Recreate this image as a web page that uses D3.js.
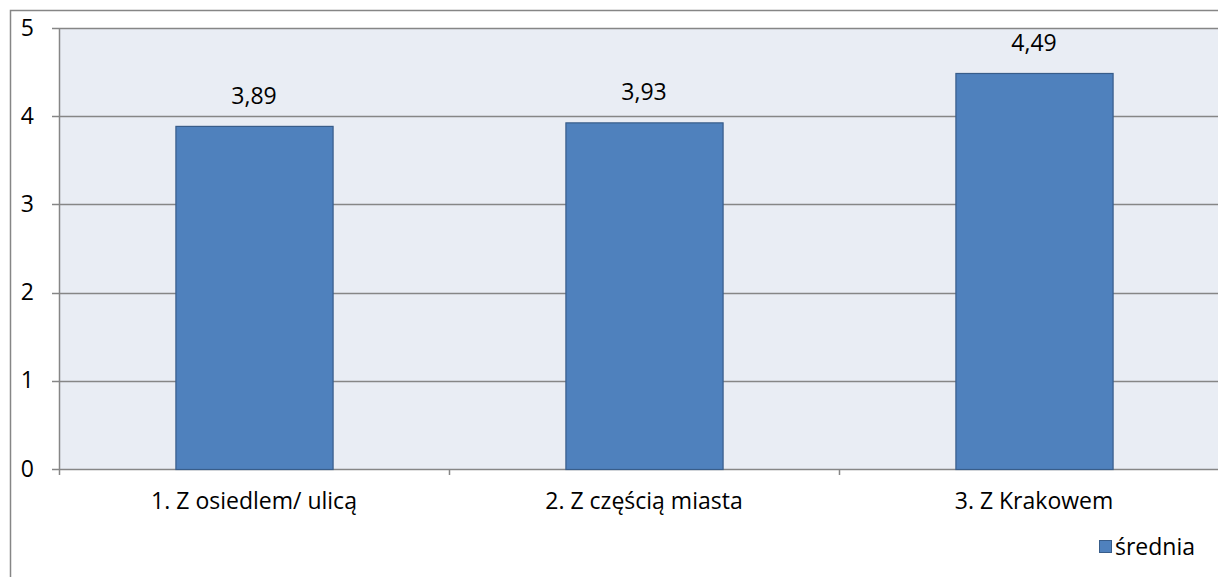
<!DOCTYPE html>
<html><head><meta charset="utf-8">
<script src="https://cdn.jsdelivr.net/npm/d3@7"></script>
<style>body{margin:0;background:#fff}svg{display:block}text{font-family:"Open Sans",sans-serif;fill:#000}</style>
</head><body>
<svg id="c" width="1218" height="577"></svg>
<script>
const categories = ["1. Z osiedlem/ ulicą", "2. Z częścią miasta", "3. Z Krakowem"];
const values = [3.89, 3.93, 4.49];
const valueLabels = ["3,89", "3,93", "4,49"];
const yTicks = [0, 1, 2, 3, 4, 5];
const seriesName = "średnia";

const svg = d3.select("#c");
const L = 59, R = 1229, T = 28, B = 469;
const FS = "23px";

svg.append("rect").attr("x", 10.5).attr("y", 10.5).attr("width", 1240).attr("height", 600)
  .attr("fill", "#fff").attr("stroke", "#868686").attr("stroke-width", 1.5);

const xo = d3.scaleBand().domain(categories).range([L, R]);
const bw = xo.bandwidth() * 0.403;
const bx = d => xo(d) + (xo.bandwidth() - bw) / 2;
const y = d3.scaleLinear().domain([0, 5]).range([B, T]);

svg.append("rect").attr("x", L).attr("y", T).attr("width", R - L).attr("height", B - T).attr("fill", "#E9EDF4");

svg.append("g").selectAll("line").data(yTicks).join("line")
  .attr("x1", L - 7).attr("x2", R).attr("y1", d => Math.round(y(d)) + 0.5).attr("y2", d => Math.round(y(d)) + 0.5)
  .attr("stroke", "#868686").attr("stroke-width", 1.5);

svg.append("line").attr("x1", L + 0.5).attr("x2", L + 0.5).attr("y1", T).attr("y2", B + 6)
  .attr("stroke", "#868686").attr("stroke-width", 1.5);

svg.append("g").selectAll("line").data(categories.slice(1)).join("line")
  .attr("x1", d => Math.round(xo(d)) + 0.5).attr("x2", d => Math.round(xo(d)) + 0.5)
  .attr("y1", B).attr("y2", B + 6).attr("stroke", "#868686").attr("stroke-width", 1.5);

svg.append("g").selectAll("text").data(yTicks).join("text")
  .attr("x", 34).attr("y", d => y(d) + 7.5).attr("text-anchor", "end").style("font-size", FS).text(d => d);

svg.append("g").selectAll("rect").data(values).join("rect")
  .attr("x", (d, i) => bx(categories[i]) + 0.5).attr("width", bw)
  .attr("y", d => y(d) + 0.5).attr("height", d => B - y(d))
  .attr("fill", "#4F81BD").attr("stroke", "#385D8A").attr("stroke-width", 1.2);

svg.append("g").selectAll("text").data(values).join("text")
  .attr("x", (d, i) => xo(categories[i]) + xo.bandwidth() / 2).attr("y", d => y(d) - 22)
  .attr("text-anchor", "middle").style("font-size", FS).text((d, i) => valueLabels[i]);

svg.append("g").selectAll("text").data(categories).join("text")
  .attr("x", d => xo(d) + xo.bandwidth() / 2).attr("y", 509)
  .attr("text-anchor", "middle").style("font-size", FS).text(d => d);

svg.append("rect").attr("x", 1099.5).attr("y", 540.5).attr("width", 12).attr("height", 12)
  .attr("fill", "#4F81BD").attr("stroke", "#385D8A").attr("stroke-width", 1);
svg.append("text").attr("x", 1115).attr("y", 555).style("font-size", FS).text(seriesName);
</script>
</body></html>
